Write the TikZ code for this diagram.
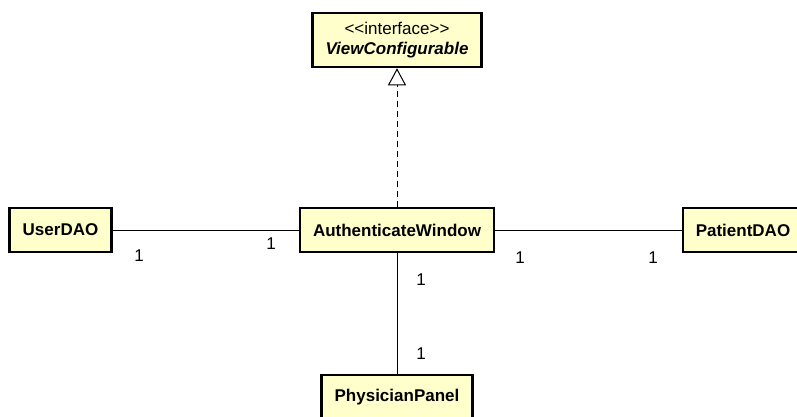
\documentclass[tikz,border=0pt]{standalone}
\usepackage{fontspec}
\setmainfont{Liberation Sans}
\usetikzlibrary{arrows.meta}

\definecolor{amarillo}{RGB}{255,255,204}
\tikzset{
	clase/.style={draw, line width=2.5pt, fill=amarillo, minimum height=44pt, inner xsep=13pt,
		font=\fontsize{17}{20}\selectfont\bfseries},
	enlace/.style={line width=1pt},
	mult/.style={inner sep=0pt, font=\fontsize{17}{20}\selectfont},
}

\begin{document}
\begin{tikzpicture}[x=1pt, y=-1pt]
			\useasboundingbox (0,0) rectangle (797,416);

			% Clases
			\node[clase, minimum height=54pt, align=center, font=\fontsize{17}{20}\selectfont] (vista) at (397,40)
				{<\kern0pt<interface>\kern0pt>\\ \textbf{\textit{ViewConfigurable}}}; % Interfaz
			\node[clase] (autentica) at (397,230) {AuthenticateWindow};
			\node[clase] (usuario) at (60.5,230) {UserDAO};
			\node[clase] (paciente) at (743,230) {PatientDAO};
			\node[clase] (medico) at (397,397) {PhysicianPanel};

			% Asociaciones
			\draw[enlace] (usuario) -- (autentica);
			\draw[enlace] (autentica) -- (paciente);
			\draw[enlace] (autentica) -- (medico);

			% Realizacion de la interfaz
			\draw[enlace, dash pattern=on 6pt off 4pt, -{Triangle[open, length=17pt, width=18pt]}] (autentica) -- (vista);

			% Multiplicidades
			\node[mult] (m1) at (139,256) {1};
			\node[mult] (m2) at (271,244) {1};
			\node[mult] (m3) at (520,258) {1};
			\node[mult] (m4) at (653,258) {1};
			\node[mult] (m5) at (421,280) {1};
			\node[mult] (m6) at (421,354) {1};

		\end{tikzpicture}
\end{document}
